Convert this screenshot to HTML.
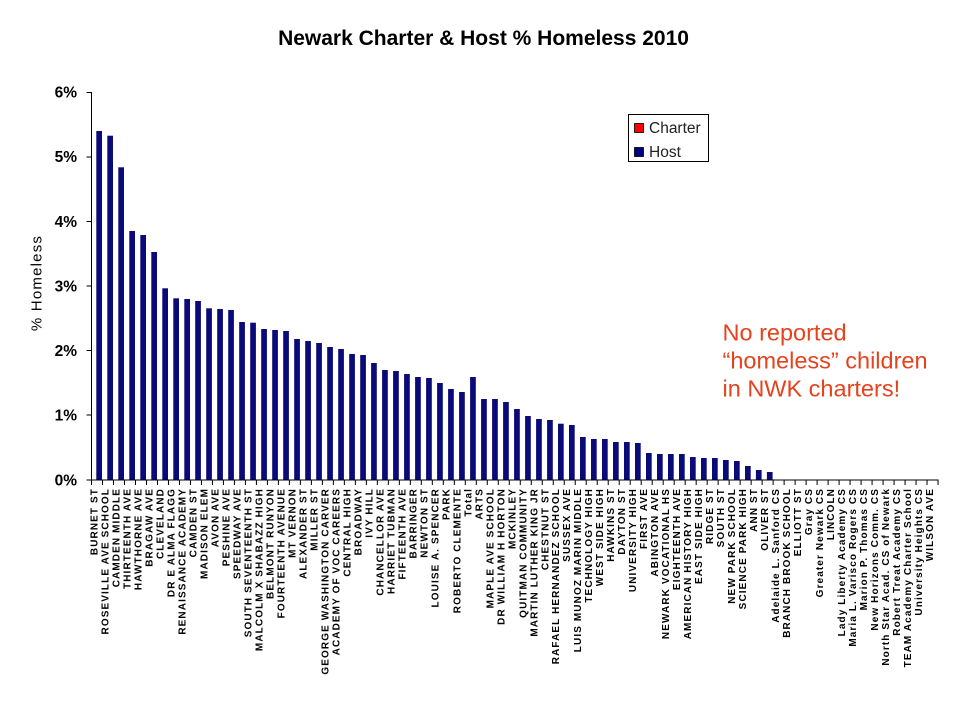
<!DOCTYPE html>
<html>
<head>
<meta charset="utf-8">
<style>
  html,body{margin:0;padding:0;background:#fff;}
  svg{display:block;}
  .xl{font-family:"Liberation Sans",Arial,sans-serif;font-weight:bold;font-size:10px;letter-spacing:1.1px;fill:#000;}
  .yl{font-family:"Liberation Sans",Arial,sans-serif;font-weight:bold;font-size:15.5px;fill:#000;}
  .b{fill:#0a0a78;}
</style>
</head>
<body>
<svg width="960" height="720" viewBox="0 0 960 720" xmlns="http://www.w3.org/2000/svg">
  <rect x="0" y="0" width="960" height="720" fill="#fff"/>

  <!-- Title -->
  <text x="483.5" y="45" text-anchor="middle" font-family="Liberation Sans, Arial, sans-serif" font-weight="bold" font-size="21">Newark Charter &amp; Host % Homeless 2010</text>

  <!-- Y axis title -->
  <text transform="translate(41.5,283) rotate(-90)" text-anchor="middle" font-family="Liberation Sans, Arial, sans-serif" font-size="15" letter-spacing="1.2">% Homeless</text>

  <!-- Y tick labels -->
  <g class="yl" text-anchor="end">
    <text x="77" y="97.5">6%</text>
    <text x="77" y="162.1">5%</text>
    <text x="77" y="226.8">4%</text>
    <text x="77" y="291.4">3%</text>
    <text x="77" y="356">2%</text>
    <text x="77" y="420.7">1%</text>
    <text x="77" y="485.3">0%</text>
  </g>

  <!-- Bars -->
  <g class="b">
    <rect x="96.3" y="131" width="5.7" height="349"/>
    <rect x="107.3" y="135.7" width="5.7" height="344.3"/>
    <rect x="118.3" y="167.3" width="5.7" height="312.7"/>
    <rect x="129.3" y="231" width="5.7" height="249"/>
    <rect x="140.3" y="235" width="5.7" height="245"/>
    <rect x="151.3" y="252" width="5.7" height="228"/>
    <rect x="162.3" y="288.3" width="5.7" height="191.7"/>
    <rect x="173.3" y="298.3" width="5.7" height="181.7"/>
    <rect x="184.3" y="299" width="5.7" height="181"/>
    <rect x="195.2" y="301" width="5.7" height="179"/>
    <rect x="206.2" y="308.3" width="5.7" height="171.7"/>
    <rect x="217.2" y="309" width="5.7" height="171"/>
    <rect x="228.2" y="310" width="5.7" height="170"/>
    <rect x="239.2" y="322" width="5.7" height="158"/>
    <rect x="250.2" y="322.7" width="5.7" height="157.3"/>
    <rect x="261.2" y="329" width="5.7" height="151"/>
    <rect x="272.2" y="330" width="5.7" height="150"/>
    <rect x="283.2" y="331" width="5.7" height="149"/>
    <rect x="294.2" y="339" width="5.7" height="141"/>
    <rect x="305.2" y="341" width="5.7" height="139"/>
    <rect x="316.2" y="343" width="5.7" height="137"/>
    <rect x="327.2" y="347" width="5.7" height="133"/>
    <rect x="338.2" y="349" width="5.7" height="131"/>
    <rect x="349.2" y="354" width="5.7" height="126"/>
    <rect x="360.2" y="355" width="5.7" height="125"/>
    <rect x="371.1" y="363" width="5.7" height="117"/>
    <rect x="382.1" y="370" width="5.7" height="110"/>
    <rect x="393.1" y="371" width="5.7" height="109"/>
    <rect x="404.1" y="374" width="5.7" height="106"/>
    <rect x="415.1" y="377" width="5.7" height="103"/>
    <rect x="426.1" y="378" width="5.7" height="102"/>
    <rect x="437.1" y="383" width="5.7" height="97"/>
    <rect x="448.1" y="389" width="5.7" height="91"/>
    <rect x="459.1" y="392" width="5.7" height="88"/>
    <rect x="470.1" y="377" width="5.7" height="103"/>
    <rect x="481.1" y="399" width="5.7" height="81"/>
    <rect x="492.1" y="399" width="5.7" height="81"/>
    <rect x="503.1" y="402" width="5.7" height="78"/>
    <rect x="514.1" y="409" width="5.7" height="71"/>
    <rect x="525.1" y="416" width="5.7" height="64"/>
    <rect x="536.1" y="419" width="5.7" height="61"/>
    <rect x="547.1" y="420" width="5.7" height="60"/>
    <rect x="558.0" y="423.7" width="5.7" height="56.3"/>
    <rect x="569.0" y="425" width="5.7" height="55"/>
    <rect x="580.0" y="437" width="5.7" height="43"/>
    <rect x="591.0" y="439" width="5.7" height="41"/>
    <rect x="602.0" y="439" width="5.7" height="41"/>
    <rect x="613.0" y="442" width="5.7" height="38"/>
    <rect x="624.0" y="442" width="5.7" height="38"/>
    <rect x="635.0" y="443" width="5.7" height="37"/>
    <rect x="646.0" y="453" width="5.7" height="27"/>
    <rect x="657.0" y="454" width="5.7" height="26"/>
    <rect x="668.0" y="454" width="5.7" height="26"/>
    <rect x="679.0" y="454" width="5.7" height="26"/>
    <rect x="690.0" y="457" width="5.7" height="23"/>
    <rect x="701.0" y="458" width="5.7" height="22"/>
    <rect x="712.0" y="458" width="5.7" height="22"/>
    <rect x="723.0" y="460" width="5.7" height="20"/>
    <rect x="734.0" y="461" width="5.7" height="19"/>
    <rect x="745.0" y="466" width="5.7" height="14"/>
    <rect x="755.9" y="470" width="5.7" height="10"/>
    <rect x="766.9" y="472" width="5.7" height="8"/>
  </g>

  <!-- Axes -->
  <line x1="91.5" y1="92" x2="91.5" y2="480.5" stroke="#000" stroke-width="1"/>
  <line x1="91" y1="480" x2="938.5" y2="480" stroke="#000" stroke-width="1"/>
  <!-- Y ticks -->
  <g stroke="#000" stroke-width="1">
    <line x1="86.5" y1="92.5" x2="91.5" y2="92.5"/>
    <line x1="86.5" y1="157" x2="91.5" y2="157"/>
    <line x1="86.5" y1="221.5" x2="91.5" y2="221.5"/>
    <line x1="86.5" y1="286" x2="91.5" y2="286"/>
    <line x1="86.5" y1="350.5" x2="91.5" y2="350.5"/>
    <line x1="86.5" y1="415" x2="91.5" y2="415"/>
    <line x1="86.5" y1="480" x2="91.5" y2="480"/>
  </g>
  <!-- X ticks -->
  <line x1="91" y1="482.5" x2="939" y2="482.5" stroke="#000" stroke-width="5" stroke-dasharray="1 9.994"/>

  <!-- X labels -->
  <g class="xl" text-anchor="end">
    <text transform="translate(97.5,488) rotate(-90)">BURNET ST</text>
    <text transform="translate(108.5,488) rotate(-90)">ROSEVILLE AVE SCHOOL</text>
    <text transform="translate(119.5,488) rotate(-90)">CAMDEN MIDDLE</text>
    <text transform="translate(130.5,488) rotate(-90)">THIRTEENTH AVE</text>
    <text transform="translate(141.5,488) rotate(-90)">HAWTHORNE AVE</text>
    <text transform="translate(152.5,488) rotate(-90)">BRAGAW AVE</text>
    <text transform="translate(163.5,488) rotate(-90)">CLEVELAND</text>
    <text transform="translate(174.5,488) rotate(-90)">DR E ALMA FLAGG</text>
    <text transform="translate(185.5,488) rotate(-90)">RENAISSANCE ACADEMY</text>
    <text transform="translate(196.4,488) rotate(-90)">CAMDEN ST</text>
    <text transform="translate(207.4,488) rotate(-90)">MADISON ELEM</text>
    <text transform="translate(218.4,488) rotate(-90)">AVON AVE</text>
    <text transform="translate(229.4,488) rotate(-90)">PESHINE AVE</text>
    <text transform="translate(240.4,488) rotate(-90)">SPEEDWAY AVE</text>
    <text transform="translate(251.4,488) rotate(-90)">SOUTH SEVENTEENTH ST</text>
    <text transform="translate(262.4,488) rotate(-90)">MALCOLM X SHABAZZ HIGH</text>
    <text transform="translate(273.4,488) rotate(-90)">BELMONT RUNYON</text>
    <text transform="translate(284.4,488) rotate(-90)">FOURTEENTH AVENUE</text>
    <text transform="translate(295.4,488) rotate(-90)">MT VERNON</text>
    <text transform="translate(306.4,488) rotate(-90)">ALEXANDER ST</text>
    <text transform="translate(317.4,488) rotate(-90)">MILLER ST</text>
    <text transform="translate(328.4,488) rotate(-90)">GEORGE WASHINGTON CARVER</text>
    <text transform="translate(339.4,488) rotate(-90)">ACADEMY OF VOC CAREERS</text>
    <text transform="translate(350.4,488) rotate(-90)">CENTRAL HIGH</text>
    <text transform="translate(361.4,488) rotate(-90)">BROADWAY</text>
    <text transform="translate(372.3,488) rotate(-90)">IVY HILL</text>
    <text transform="translate(383.3,488) rotate(-90)">CHANCELLOR AVE</text>
    <text transform="translate(394.3,488) rotate(-90)">HARRIET TUBMAN</text>
    <text transform="translate(405.3,488) rotate(-90)">FIFTEENTH AVE</text>
    <text transform="translate(416.3,488) rotate(-90)">BARRINGER</text>
    <text transform="translate(427.3,488) rotate(-90)">NEWTON ST</text>
    <text transform="translate(438.3,488) rotate(-90)">LOUISE A. SPENCER</text>
    <text transform="translate(449.3,488) rotate(-90)">PARK</text>
    <text transform="translate(460.3,488) rotate(-90)">ROBERTO CLEMENTE</text>
    <text transform="translate(471.3,488) rotate(-90)">Total</text>
    <text transform="translate(482.3,488) rotate(-90)">ARTS</text>
    <text transform="translate(493.3,488) rotate(-90)">MAPLE AVE SCHOOL</text>
    <text transform="translate(504.3,488) rotate(-90)">DR WILLIAM H HORTON</text>
    <text transform="translate(515.3,488) rotate(-90)">MCKINLEY</text>
    <text transform="translate(526.3,488) rotate(-90)">QUITMAN COMMUNITY</text>
    <text transform="translate(537.3,488) rotate(-90)">MARTIN LUTHER KING JR</text>
    <text transform="translate(548.3,488) rotate(-90)">CHESTNUT ST</text>
    <text transform="translate(559.2,488) rotate(-90)">RAFAEL HERNANDEZ SCHOOL</text>
    <text transform="translate(570.2,488) rotate(-90)">SUSSEX AVE</text>
    <text transform="translate(581.2,488) rotate(-90)">LUIS MUNOZ MARIN MIDDLE</text>
    <text transform="translate(592.2,488) rotate(-90)">TECHNOLOGY HIGH</text>
    <text transform="translate(603.2,488) rotate(-90)">WEST SIDE HIGH</text>
    <text transform="translate(614.2,488) rotate(-90)">HAWKINS ST</text>
    <text transform="translate(625.2,488) rotate(-90)">DAYTON ST</text>
    <text transform="translate(636.2,488) rotate(-90)">UNIVERSITY HIGH</text>
    <text transform="translate(647.2,488) rotate(-90)">FIRST AVE</text>
    <text transform="translate(658.2,488) rotate(-90)">ABINGTON AVE</text>
    <text transform="translate(669.2,488) rotate(-90)">NEWARK VOCATIONAL HS</text>
    <text transform="translate(680.2,488) rotate(-90)">EIGHTEENTH AVE</text>
    <text transform="translate(691.2,488) rotate(-90)">AMERICAN HISTORY HIGH</text>
    <text transform="translate(702.2,488) rotate(-90)">EAST SIDE HIGH</text>
    <text transform="translate(713.2,488) rotate(-90)">RIDGE ST</text>
    <text transform="translate(724.2,488) rotate(-90)">SOUTH ST</text>
    <text transform="translate(735.2,488) rotate(-90)">NEW PARK SCHOOL</text>
    <text transform="translate(746.2,488) rotate(-90)">SCIENCE PARK HIGH</text>
    <text transform="translate(757.1,488) rotate(-90)">ANN ST</text>
    <text transform="translate(768.1,488) rotate(-90)">OLIVER ST</text>
    <text transform="translate(779.1,488) rotate(-90)">Adelaide L. Sanford CS</text>
    <text transform="translate(790.1,488) rotate(-90)">BRANCH BROOK SCHOOL</text>
    <text transform="translate(801.1,488) rotate(-90)">ELLIOTT ST</text>
    <text transform="translate(812.1,488) rotate(-90)">Gray CS</text>
    <text transform="translate(823.1,488) rotate(-90)">Greater Newark CS</text>
    <text transform="translate(834.1,488) rotate(-90)">LINCOLN</text>
    <text transform="translate(845.1,488) rotate(-90)">Lady Liberty Academy CS</text>
    <text transform="translate(856.1,488) rotate(-90)">Maria L. Varisco Rogers CS</text>
    <text transform="translate(867.1,488) rotate(-90)">Marion P. Thomas CS</text>
    <text transform="translate(878.1,488) rotate(-90)">New Horizons Comm. CS</text>
    <text transform="translate(889.1,488) rotate(-90)">North Star Acad. CS of Newark</text>
    <text transform="translate(900.1,488) rotate(-90)">Robert Treat Academy CS</text>
    <text transform="translate(911.1,488) rotate(-90)">TEAM Academy Charter School</text>
    <text transform="translate(922.0,488) rotate(-90)">University Heights CS</text>
    <text transform="translate(933.0,488) rotate(-90)">WILSON AVE</text>
  </g>

  <!-- Legend -->
  <rect x="628.5" y="114.5" width="80" height="47" fill="#fff" stroke="#000" stroke-width="1"/>
  <rect x="634.5" y="123.5" width="9" height="9" fill="#ff0000" stroke="#000" stroke-width="0.8"/>
  <rect x="634.5" y="147.5" width="9" height="9" fill="#000080" stroke="#000" stroke-width="0.8"/>
  <g font-family="Liberation Sans, Arial, sans-serif" font-size="15.5" fill="#222">
    <text x="649" y="133">Charter</text>
    <text x="649" y="157">Host</text>
  </g>

  <!-- Annotation -->
  <g font-family="Liberation Sans, Arial, sans-serif" font-size="23.5" fill="#e5421d">
    <text x="722.5" y="340.5">No reported</text>
    <text x="722.5" y="368.5">“homeless” children</text>
    <text x="722.5" y="396.5">in NWK charters!</text>
  </g>
</svg>
</body>
</html>
